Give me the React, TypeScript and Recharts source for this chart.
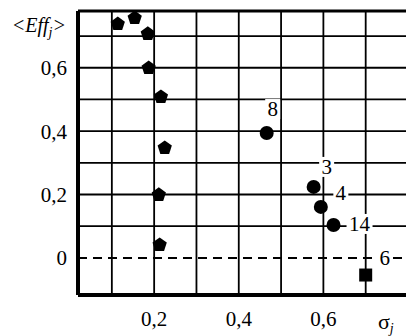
import React from "react";
import {
  ScatterChart,
  Scatter,
  XAxis,
  YAxis,
  CartesianGrid,
  ReferenceLine,
} from "recharts";

const SERIF = '"Liberation Serif"';

// axis ticks (grid every 0.1, labels on every other one)
const xTicks = [0.1, 0.2, 0.3, 0.4, 0.5, 0.6, 0.7];
const xLabelled = [0.2, 0.4, 0.6];
const yTicks = [0, 0.1, 0.2, 0.3, 0.4, 0.5, 0.6, 0.7];
const yLabelled = [0, 0.2, 0.4, 0.6];

// pentagon series
const pentSigma = [0.114, 0.154, 0.185, 0.187, 0.216, 0.225, 0.211, 0.213];
const pentEff = [0.738, 0.757, 0.707, 0.599, 0.508, 0.347, 0.199, 0.041];

// circles with numbers
const circleIds = ["8", "3", "4", "14"];
const circleSigma = [0.466, 0.577, 0.594, 0.624];
const circleEff = [0.394, 0.224, 0.161, 0.104];

// square
const squareIds = ["6"];
const squareSigma = [0.7];
const squareEff = [-0.054];

// where the number sits relative to its marker (px)
const labelShift: Record<string, [number, number]> = {
  "8": [6, -24],
  "3": [13, -20],
  "4": [20, -14],
  "14": [26, -1],
  "6": [19, -17],
};

const pentData = pentSigma.map((s, i) => ({ sigma: s, eff: pentEff[i] }));
const circleData = circleSigma.map((s, i) => ({ sigma: s, eff: circleEff[i], id: circleIds[i] }));
const squareData = squareSigma.map((s, i) => ({ sigma: s, eff: squareEff[i], id: squareIds[i] }));

const fmt = (v: number) => (v === 0 ? "0" : v.toFixed(1).replace(".", ","));

const Pentagon = (p: any) => {
  const { cx, cy } = p;
  const r = 7.5;
  const pts = [0, 1, 2, 3, 4]
    .map((i) => {
      const a = -Math.PI / 2 + (i * 2 * Math.PI) / 5;
      return `${cx + r * Math.cos(a)},${cy + r * Math.sin(a)}`;
    })
    .join(" ");
  return <polygon points={pts} fill="#000" />;
};

const tagged = (kind: "circle" | "square") => (p: any) => {
  const { cx, cy, payload } = p;
  const [dx, dy] = labelShift[payload.id];
  const w = payload.id.length * 11 + 4;
  return (
    <g>
      {kind === "circle" ? (
        <circle cx={cx} cy={cy} r={7} fill="#000" />
      ) : (
        <rect x={cx - 6.5} y={cy - 6.5} width={13} height={13} fill="#000" />
      )}
      <rect x={cx + dx - w / 2} y={cy + dy - 10} width={w} height={20} fill="#fff" />
      <text
        x={cx + dx}
        y={cy + dy + 7}
        textAnchor="middle"
        fontSize={21}
        style={{ fontFamily: SERIF }}
        fill="#000"
      >
        {payload.id}
      </text>
    </g>
  );
};

const EffTitle = ({ viewBox }: any) => (
  <text
    x={viewBox.x + viewBox.width - 12}
    y={viewBox.y + 21}
    textAnchor="end"
    style={{ fontFamily: SERIF, fontStyle: "italic" }}
    fontSize={20}
    fill="#000"
  >
    &lt;Eff
    <tspan fontSize={14} dy={5}>
      j
    </tspan>
    <tspan dy={-5}>&gt;</tspan>
  </text>
);

const SigmaTitle = ({ viewBox }: any) => (
  <text x={viewBox.x + 300} y={viewBox.y + 34} style={{ fontFamily: SERIF }} fontSize={22} fill="#000">
    σ
    <tspan fontSize={14} dy={4} style={{ fontStyle: "italic" }}>
      j
    </tspan>
  </text>
);

const tickStyle = { fill: "#000", fontSize: 21, style: { fontFamily: SERIF } };

export default function App() {
  return (
    <div
      style={{
        position: "fixed",
        left: 0,
        top: 0,
        width: 406,
        height: 336,
        overflow: "hidden",
        background: "#fff",
        fontFamily: SERIF,
      }}
    >
      <ScatterChart
        width={420}
        height={336}
        margin={{ top: 11, right: 12, bottom: 0, left: 8 }}
        style={{ fontFamily: SERIF }}
      >
        <CartesianGrid
          stroke="#000"
          strokeWidth={1.8}
          verticalValues={xTicks}
          horizontalValues={yTicks.filter((v) => v > 0)}
        />
        <CartesianGrid
          vertical={false}
          horizontalValues={[0]}
          stroke="#000"
          strokeWidth={2}
          strokeDasharray="9 6"
        />
        <XAxis
          type="number"
          dataKey="sigma"
          domain={[0.02, 0.8]}
          allowDataOverflow
          ticks={xTicks}
          interval={0}
          height={41}
          tickLine={false}
          tickSize={6}
          tickMargin={10}
          axisLine={{ stroke: "#000", strokeWidth: 4 }}
          tick={tickStyle}
          tickFormatter={(v: number) => (xLabelled.includes(v) ? fmt(v) : "")}
          label={<SigmaTitle />}
        />
        <YAxis
          type="number"
          dataKey="eff"
          domain={[-0.117, 0.779]}
          allowDataOverflow
          ticks={yTicks}
          interval={0}
          width={70}
          tickLine={false}
          tickSize={6}
          tickMargin={5}
          axisLine={{ stroke: "#000", strokeWidth: 4 }}
          tick={tickStyle}
          tickFormatter={(v: number) => (yLabelled.includes(v) ? fmt(v) : "")}
          label={<EffTitle />}
        />
        <ReferenceLine y={0.779} stroke="#000" strokeWidth={3} />
        <Scatter data={pentData} shape={Pentagon} isAnimationActive={false} />
        <Scatter data={circleData} shape={tagged("circle")} isAnimationActive={false} />
        <Scatter data={squareData} shape={tagged("square")} isAnimationActive={false} />
      </ScatterChart>
    </div>
  );
}
